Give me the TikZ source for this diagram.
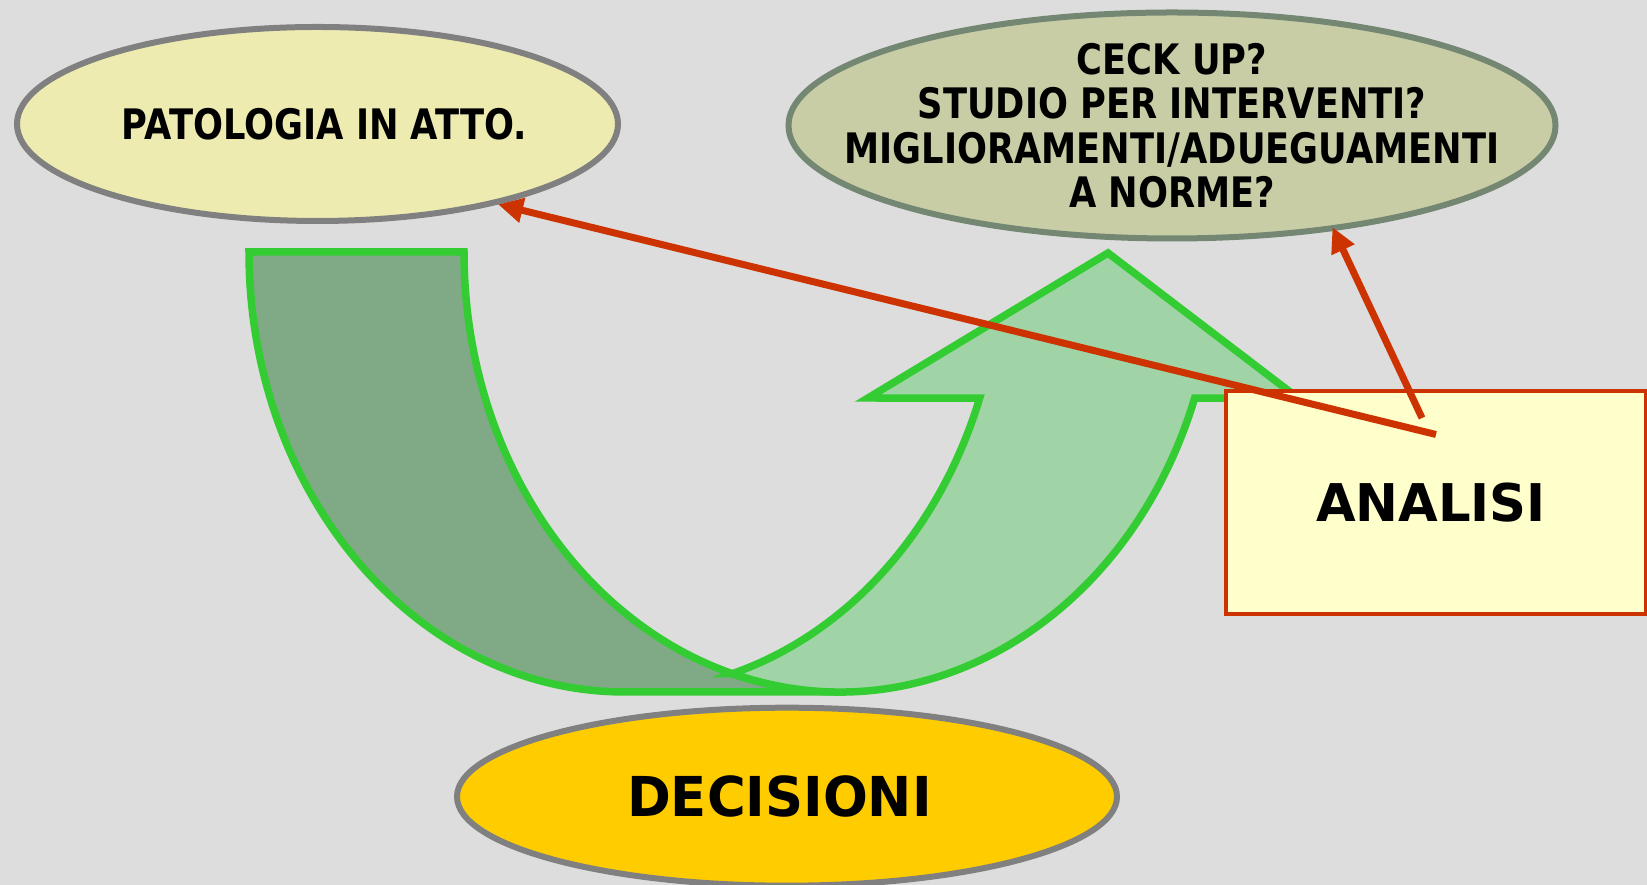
\documentclass[tikz,border=0pt]{standalone}
\usepackage{fontspec}
\setmainfont{DejaVu Sans}
\newfontfamily\narrowfont{DejaVu Sans}[FakeStretch=0.84]
\usetikzlibrary{arrows.meta,calc,shapes.geometric}
\definecolor{slidegray}{HTML}{DDDDDD}
\definecolor{rimgray}{HTML}{808080}
\definecolor{patfill}{HTML}{EDEBB0}
\definecolor{checkfill}{HTML}{C9CDA6}
\definecolor{checkrim}{HTML}{738773}
\definecolor{decfill}{HTML}{FFCC00}
\definecolor{anafill}{HTML}{FFFFCC}
\definecolor{linkred}{HTML}{CC3300}
\definecolor{bandgreen}{HTML}{33CC33}
\definecolor{banddark}{HTML}{80AA86}
\definecolor{bandlight}{HTML}{A0D4A6}

\begin{document}
\begin{tikzpicture}[x=1pt, y=1pt,
  bubble/.style={ellipse, draw=rimgray, line width=6pt, inner sep=0pt},
  band/.style={draw=bandgreen, line width=7.5pt, line join=miter},
  link/.style={draw=linkred, line width=7pt, -{Triangle[length=25pt,width=24pt]}}]
  \fill[slidegray] (0,0) rectangle (1647,885);
  \useasboundingbox (0,0) rectangle (1647,885);

  \coordinate (c1) at (625,633);
  \coordinate (c2) at (840,633);
  \filldraw[band, fill=banddark] (249,633) -- (464,633)
    arc[start angle=180, end angle=270, x radius=376, y radius=440]
    -- ($(c1)+(0,-440)$)
    arc[start angle=270, end angle=180, x radius=376, y radius=440] -- cycle;
  \filldraw[band, fill=bandlight] ($(c2)+(253.4:376 and 440)$)
    arc[start angle=253.4, end angle=340.6, x radius=376, y radius=440]
    -- (1298,487) -- (1108,632) -- (868,487) -- ($(c1)+(-19.4:376 and 440)$)
    arc[start angle=-19.4, end angle=-73.4, x radius=376, y radius=440] -- cycle;

  \node[bubble, fill=patfill, minimum width=601pt, minimum height=194pt,
    font=\narrowfont\bfseries\fontsize{42}{48}\selectfont] (pat) at (317.5,761) {\hspace*{14pt}PATOLOGIA IN ATTO.};
  \node[bubble, draw=checkrim, fill=checkfill, minimum width=767pt, minimum height=226pt,
    inner xsep=-80pt, inner ysep=-20pt, align=center,
    font=\narrowfont\bfseries\fontsize{42}{44.5}\selectfont] (check) at (1172,759.5)
    {CECK UP?\\STUDIO PER INTERVENTI?\\MIGLIORAMENTI/ADUEGUAMENTI\\A NORME?};
  \node[bubble, fill=decfill, minimum width=660pt, minimum height=178pt,
    font=\bfseries\fontsize{55}{60}\selectfont] (dec) at (787,88.3) {\hspace*{-15pt}\scalebox{0.96}[1]{DECISIONI}};
  \node[draw=linkred, fill=anafill, line width=4pt, minimum width=420pt, minimum height=223pt,
    font=\bfseries\fontsize{52}{60}\selectfont] (ana) at (1436,382.5) {\hspace*{-10pt}\scalebox{0.985}[1]{ANALISI}};

  \coordinate (fromA) at ($(ana.center)+(0,68)$);
  \coordinate (fromB) at ($(ana.center)+(-14,84.5)$);
  \draw[link] (fromA) -- (pat.-24.6);
  \draw[link, shorten >=-4pt] (fromB) -- (check.-33.7);
\end{tikzpicture}
\end{document}
